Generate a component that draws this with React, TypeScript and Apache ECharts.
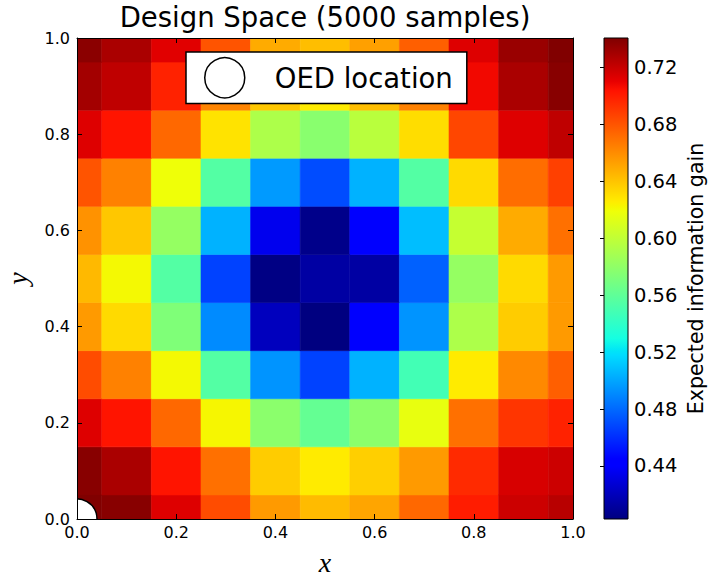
import React, { useEffect, useRef } from "react";
import * as echarts from "echarts";

// Grid of design points (cell centres) on the unit square
const xCenters = [0.0, 0.1, 0.2, 0.3, 0.4, 0.5, 0.6, 0.7, 0.8, 0.9, 1.0];
const yCenters = [0.0, 0.1, 0.2, 0.3, 0.4, 0.5, 0.6, 0.7, 0.8, 0.9, 1.0];

// Expected information gain, one row per y value (bottom row first)
const gainY00 = [0.7404, 0.738, 0.713, 0.683, 0.655, 0.643, 0.651, 0.673, 0.7, 0.718, 0.724];
const gainY01 = [0.738, 0.728, 0.703, 0.67, 0.637, 0.626, 0.636, 0.655, 0.695, 0.715, 0.718];
const gainY02 = [0.713, 0.703, 0.673, 0.622, 0.578, 0.562, 0.578, 0.616, 0.67, 0.691, 0.698];
const gainY03 = [0.683, 0.664, 0.621, 0.555, 0.494, 0.467, 0.504, 0.548, 0.626, 0.661, 0.676];
const gainY04 = [0.655, 0.632, 0.573, 0.491, 0.421, 0.4028, 0.443, 0.494, 0.592, 0.637, 0.655];
const gainY05 = [0.644, 0.621, 0.555, 0.467, 0.404, 0.413, 0.413, 0.477, 0.582, 0.632, 0.655];
const gainY06 = [0.658, 0.639, 0.582, 0.504, 0.435, 0.406, 0.443, 0.508, 0.602, 0.649, 0.67];
const gainY07 = [0.68, 0.664, 0.619, 0.555, 0.496, 0.47, 0.504, 0.555, 0.632, 0.671, 0.687];
const gainY08 = [0.713, 0.703, 0.673, 0.629, 0.592, 0.577, 0.597, 0.631, 0.685, 0.713, 0.722];
const gainY09 = [0.73, 0.722, 0.698, 0.663, 0.639, 0.626, 0.642, 0.664, 0.707, 0.728, 0.738];
const gainY10 = [0.737, 0.728, 0.712, 0.68, 0.649, 0.642, 0.653, 0.676, 0.713, 0.733, 0.74];
const gainRows = [gainY00, gainY01, gainY02, gainY03, gainY04, gainY05, gainY06, gainY07, gainY08, gainY09, gainY10];

const axisTicks = [0.0, 0.2, 0.4, 0.6, 0.8, 1.0];
const colorbarTicks = [0.44, 0.48, 0.52, 0.56, 0.6, 0.64, 0.68, 0.72];
const oedLocation = [[0.0, 0.0]];

// Piecewise-linear "jet" colormap
const JET_R = [[0, 0], [0.35, 0], [0.66, 1], [0.89, 1], [1, 0.5]];
const JET_G = [[0, 0], [0.125, 0], [0.375, 1], [0.64, 1], [0.91, 0], [1, 0]];
const JET_B = [[0, 0.5], [0.11, 1], [0.34, 1], [0.65, 0], [1, 0]];
const JET_BREAKS = [0, 0.11, 0.125, 0.34, 0.35, 0.375, 0.64, 0.65, 0.66, 0.89, 0.91, 1];

function channel(points: number[][], t: number): number {
  for (let i = 1; i < points.length; i++) {
    const [t0, v0] = points[i - 1];
    const [t1, v1] = points[i];
    if (t <= t1) return v0 + ((v1 - v0) * (t - t0)) / (t1 - t0);
  }
  return points[points.length - 1][1];
}

function jet(t: number): string {
  const c = Math.max(0, Math.min(1, t));
  const r = Math.round(channel(JET_R, c) * 255);
  const g = Math.round(channel(JET_G, c) * 255);
  const b = Math.round(channel(JET_B, c) * 255);
  return `rgb(${r},${g},${b})`;
}

const SANS = "DejaVu Sans";
const SERIF = "Liberation Serif";
const MARKER_RADIUS = 20;

export default function App() {
  const ref = useRef<HTMLDivElement>(null);

  useEffect(() => {
    document.body.style.margin = "0";
    if (!ref.current) return;
    const chart = echarts.init(ref.current, undefined, { renderer: "svg" });

    const cells: number[][] = [];
    gainRows.forEach((row, j) => {
      row.forEach((v, i) => cells.push([xCenters[i], yCenters[j], v]));
    });
    const allValues = cells.map((c) => c[2]);
    const cbMin = Math.min(...allValues);
    const cbMax = Math.max(...allValues);
    const hx = (xCenters[1] - xCenters[0]) / 2;
    const hy = (yCenters[1] - yCenters[0]) / 2;
    const lo = axisTicks[0];
    const hi = axisTicks[axisTicks.length - 1];
    const step = axisTicks[1] - axisTicks[0];

    const gradientStops = JET_BREAKS.map((t) => ({ offset: t, color: jet(t) }));

    const frameAxis = (extra: any) => ({
      type: "value",
      gridIndex: 0,
      min: lo,
      max: hi,
      interval: step,
      z: 10,
      axisLine: { show: true, onZero: false, lineStyle: { color: "#000", width: 1 } },
      axisTick: { show: true, inside: true, length: 5, lineStyle: { color: "#000", width: 1 } },
      splitLine: { show: false },
      ...extra,
    });

    chart.setOption({
      animation: false,
      backgroundColor: "#fff",
      title: {
        text: "Design Space (5000 samples)",
        left: 325,
        textAlign: "center",
        top: 3,
        padding: 0,
        textStyle: { fontFamily: SANS, fontSize: 27.5, fontWeight: "normal", color: "#000" },
      },
      legend: {
        data: ["OED location"],
        left: 186,
        top: 52,
        orient: "horizontal",
        icon: "circle",
        itemWidth: 40,
        itemHeight: 40,
        padding: [5, 14, 5, 18],
        backgroundColor: "#fff",
        borderColor: "#000",
        borderWidth: 1.5,
        borderRadius: 0,
        selectedMode: false,
        itemStyle: { color: "#fff", borderColor: "#000", borderWidth: 1.5 },
        textStyle: { fontFamily: SANS, fontSize: 27.5, color: "#000", padding: [0, 0, 0, 25] },
      },
      grid: [
        { left: 77, top: 38, width: 496, height: 481, outerBoundsMode: "none", containLabel: false },
        { left: 604, top: 38, width: 24, height: 481, outerBoundsMode: "none", containLabel: false },
      ],
      xAxis: [
        frameAxis({
          position: "bottom",
          axisLabel: {
            formatter: (v: number) => v.toFixed(1),
            fontFamily: SANS,
            fontSize: 16,
            color: "#000",
            margin: 5,
          },
          name: "x",
          nameLocation: "middle",
          nameGap: 29,
          nameTextStyle: { fontFamily: SERIF, fontStyle: "italic", fontSize: 28, color: "#000" },
        }),
        frameAxis({ position: "top", axisLabel: { show: false } }),
        { type: "value", gridIndex: 1, min: 0, max: 1, show: false },
      ],
      yAxis: [
        frameAxis({
          position: "left",
          axisLabel: {
            formatter: (v: number) => v.toFixed(1),
            fontFamily: SANS,
            fontSize: 16,
            color: "#000",
            margin: 7,
          },
          name: "y",
          nameLocation: "middle",
          nameGap: 46,
          nameTextStyle: { fontFamily: SERIF, fontStyle: "italic", fontSize: 28, color: "#000" },
        }),
        frameAxis({ position: "right", axisLabel: { show: false } }),
        {
          type: "value",
          gridIndex: 1,
          position: "right",
          min: cbMin,
          max: cbMax,
          z: 10,
          axisLine: { show: false },
          axisTick: {
            show: true,
            inside: true,
            length: 4,
            customValues: colorbarTicks,
            lineStyle: { color: "#000", width: 1 },
          },
          axisLabel: {
            customValues: colorbarTicks,
            formatter: (v: number) => v.toFixed(2),
            fontFamily: SANS,
            fontSize: 19.5,
            color: "#000",
            margin: 6,
          },
          splitLine: { show: false },
          name: "Expected information gain",
          nameLocation: "middle",
          nameGap: 57,
          nameTextStyle: { fontFamily: SANS, fontSize: 20.5, color: "#000" },
        },
      ],
      series: [
        {
          type: "custom",
          name: "Expected information gain",
          xAxisIndex: 0,
          yAxisIndex: 0,
          clip: true,
          silent: true,
          z: 2,
          data: cells,
          encode: { x: 0, y: 1 },
          renderItem: (_params: any, api: any) => {
            const x = api.value(0) as number;
            const y = api.value(1) as number;
            const v = api.value(2) as number;
            const x0 = Math.max(lo, x - hx);
            const x1 = Math.min(hi, x + hx);
            const y0 = Math.max(lo, y - hy);
            const y1 = Math.min(hi, y + hy);
            const tl = api.coord([x0, y1]);
            const br = api.coord([x1, y0]);
            const fill = jet((v - cbMin) / (cbMax - cbMin));
            return {
              type: "rect",
              shape: { x: tl[0], y: tl[1], width: br[0] - tl[0], height: br[1] - tl[1] },
              style: { fill, stroke: fill, lineWidth: 0.6 },
            };
          },
        },
        {
          // OED location marker, clipped to the plotting area
          type: "custom",
          name: "OED location",
          xAxisIndex: 0,
          yAxisIndex: 0,
          data: oedLocation,
          encode: { x: 0, y: 1 },
          clip: true,
          silent: true,
          z: 3,
          itemStyle: { color: "#fff", borderColor: "#000", borderWidth: 1.5 },
          renderItem: (_params: any, api: any) => {
            const p = api.coord([api.value(0), api.value(1)]);
            return {
              type: "circle",
              shape: { cx: p[0], cy: p[1], r: MARKER_RADIUS },
              style: { fill: "#fff", stroke: "#000", lineWidth: 1.5 },
            };
          },
        },
        {
          type: "custom",
          name: "colorbar",
          xAxisIndex: 2,
          yAxisIndex: 2,
          silent: true,
          data: [[0, cbMin, cbMax]],
          encode: { x: 0, y: [1, 2] },
          renderItem: (_params: any, api: any) => {
            const tl = api.coord([0, api.value(2)]);
            const br = api.coord([1, api.value(1)]);
            return {
              type: "rect",
              shape: { x: tl[0], y: tl[1], width: br[0] - tl[0], height: br[1] - tl[1] },
              style: {
                fill: new echarts.graphic.LinearGradient(0, 1, 0, 0, gradientStops),
                stroke: "#000",
                lineWidth: 1,
              },
            };
          },
        },
      ],
    });

    return () => chart.dispose();
  }, []);

  return <div ref={ref} style={{ width: 716, height: 587 }} />;
}
